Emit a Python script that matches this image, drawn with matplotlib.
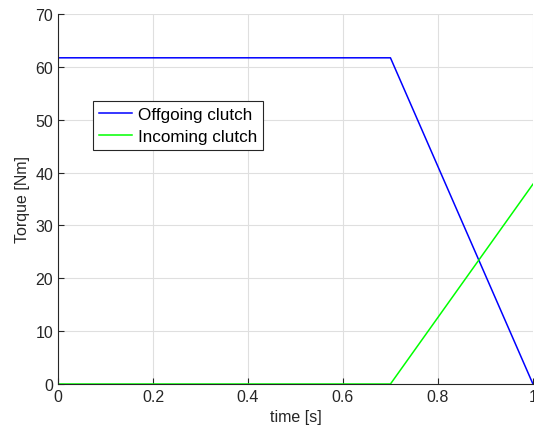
import matplotlib.pyplot as plt

# data
t = [0.0, 0.7, 1.0]
offgoing = [61.7, 61.7, 0.0]
incoming = [0.0, 0.0, 37.8]
xticks = [0, 0.2, 0.4, 0.6, 0.8, 1]
yticks = [0, 10, 20, 30, 40, 50, 60, 70]

plt.rcParams['font.family'] = ['Liberation Sans', 'DejaVu Sans']
plt.rcParams['font.size'] = 11.5

fig = plt.figure(figsize=(5.34, 4.39), dpi=100)
ax = fig.add_axes([0.1086, 0.123, 0.8894, 0.843])

ax.plot(t, offgoing, color='#0000ff', lw=1.1, label='Offgoing clutch')
ax.plot(t, incoming, color='#00ff00', lw=1.1, label='Incoming clutch')

ax.set_xlim(0, 1)
ax.set_ylim(0, 70)
ax.set_xticks(xticks)
ax.set_xticklabels(['0', '0.2', '0.4', '0.6', '0.8', '1'])
ax.set_yticks(yticks)
ax.grid(True, color='#dfdfdf', lw=0.8)
ax.set_axisbelow(True)
for s in ['top', 'right']:
    ax.spines[s].set_visible(False)
for s in ['left', 'bottom']:
    ax.spines[s].set_color('#262626')
    ax.spines[s].set_linewidth(0.8)
ax.tick_params(direction='in', length=4, colors='#262626', labelcolor='#262626')
ax.set_xlabel('time [s]', color='#262626')
ax.set_ylabel('Torque [Nm]', color='#262626')

leg = ax.legend(loc='upper left', bbox_to_anchor=(0.074, 0.765), fancybox=False,
                edgecolor='#262626', framealpha=1, borderaxespad=0, fontsize=12.3,
                handlelength=1.95, handletextpad=0.3, borderpad=0.35, labelspacing=0.42)
leg.get_frame().set_linewidth(0.8)

fig.savefig('out.png', dpi=100)
